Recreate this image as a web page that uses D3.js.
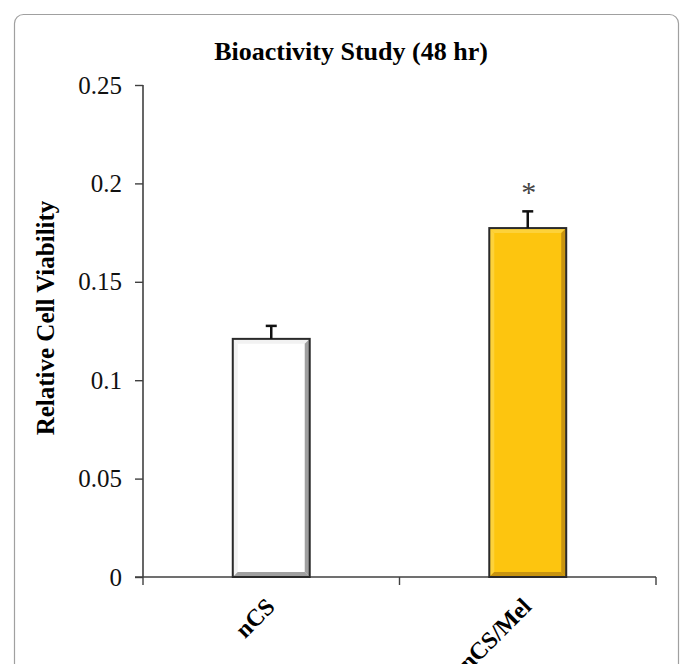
<!DOCTYPE html>
<html><head><meta charset="utf-8">
<script src="https://cdn.jsdelivr.net/npm/d3@7/dist/d3.min.js"></script>
<style>html,body{margin:0;padding:0;background:#fff;}svg{display:block;}</style>
</head><body>
<script>
const categories = ["nCS", "nCS/Mel"];
const values = [0.121, 0.1773];
const errors = [0.0066, 0.0085];
const significance = ["", "*"];
const yTicks = [0, 0.05, 0.1, 0.15, 0.2, 0.25];
const yTickLabels = ["0", "0.05", "0.1", "0.15", "0.2", "0.25"];
const fills = ["#ffffff", "#fdc50f"];
const bevelLight = ["#f2f2f2", "#fdd23a"];
const bevelDark = ["#a0a0a0", "#c89410"];
const title = "Bioactivity Study (48 hr)";
const yLabel = "Relative Cell Viability";

const W = 686, H = 664;
const svg = d3.select("body").append("svg").attr("width", W).attr("height", H);
const serif = "'Liberation Serif', 'Times New Roman', serif";

// frame
svg.append("rect").attr("x", 14.5).attr("y", 14.5).attr("width", 664).attr("height", 700)
  .attr("rx", 9).attr("fill", "none").attr("stroke", "#a0a0a0").attr("stroke-width", 1.2);

const x0 = 143, x1 = 656, yBase = 577, yTop = 85;
const x = d3.scaleBand().domain(categories).range([x0, x1]).paddingInner(0.7).paddingOuter(0.35);
const y = d3.scaleLinear().domain([0, 0.25]).range([yBase, yTop]);

// title
svg.append("text").attr("x", 351).attr("y", 60).attr("text-anchor", "middle")
  .attr("font-family", serif).attr("font-weight", "bold").attr("font-size", 26).text(title);

// y axis
const yAxis = svg.append("g").attr("transform", `translate(${x0},0)`)
  .call(d3.axisLeft(y).tickValues(yTicks).tickFormat((d, i) => yTickLabels[i]).tickSize(8).tickPadding(13));
yAxis.select(".domain").attr("stroke", "#404040").attr("stroke-width", 1.6).attr("d", `M0,${yTop}V${yBase}`);
yAxis.selectAll(".tick line").attr("stroke", "#404040").attr("stroke-width", 1.4);
yAxis.selectAll(".tick text").attr("font-family", serif).attr("font-size", 25).attr("fill", "#111");

// y label
svg.append("text").attr("transform", `translate(54,${318}) rotate(-90)`)
  .attr("text-anchor", "middle").attr("font-family", serif).attr("font-weight", "bold")
  .attr("font-size", 25).text(yLabel);

// x axis
const step = x.step();
const bounds = [x0, x0 + step, x1];
const xg = svg.append("g");
xg.append("line").attr("x1", x0 - 8).attr("x2", x1).attr("y1", yBase).attr("y2", yBase)
  .attr("stroke", "#404040").attr("stroke-width", 1.6);
xg.selectAll("line.tk").data(bounds).join("line").attr("class", "tk")
  .attr("x1", d => d).attr("x2", d => d).attr("y1", yBase).attr("y2", yBase + 8)
  .attr("stroke", "#404040").attr("stroke-width", 1.4);
xg.selectAll("text").data(categories).join("text")
  .attr("transform", d => `translate(${x(d) + x.bandwidth() / 2 + 5},${yBase + 31}) rotate(-45)`)
  .attr("text-anchor", "end").attr("font-family", serif).attr("font-weight", "bold")
  .attr("font-size", 24).text(d => d);

// bars
const bars = svg.append("g");
categories.forEach((c, i) => {
  const bx = x(c), bw = x.bandwidth(), by = y(values[i]), bh = yBase - by;
  const g = bars.append("g");
  g.append("rect").attr("x", bx).attr("y", by).attr("width", bw).attr("height", bh).attr("fill", fills[i]);
  const b = 5;
  g.append("polygon").attr("points", `${bx},${by} ${bx + bw},${by} ${bx + bw - b},${by + b} ${bx + b},${by + b}`).attr("fill", bevelLight[i]);
  g.append("polygon").attr("points", `${bx},${by} ${bx + b},${by + b} ${bx + b},${yBase - b} ${bx},${yBase}`).attr("fill", bevelLight[i]);
  g.append("polygon").attr("points", `${bx + bw},${by} ${bx + bw},${yBase} ${bx + bw - b},${yBase - b} ${bx + bw - b},${by + b}`).attr("fill", bevelDark[i]);
  g.append("polygon").attr("points", `${bx},${yBase} ${bx + bw},${yBase} ${bx + bw - b},${yBase - b} ${bx + b},${yBase - b}`).attr("fill", bevelDark[i]);
  g.append("rect").attr("x", bx).attr("y", by).attr("width", bw).attr("height", bh)
    .attr("fill", "none").attr("stroke", "#2a2a2a").attr("stroke-width", 2);
  const cx = bx + bw / 2, ey = y(values[i] + errors[i]);
  g.append("line").attr("x1", cx).attr("x2", cx).attr("y1", by).attr("y2", ey).attr("stroke", "#111").attr("stroke-width", 2.5);
  g.append("line").attr("x1", cx - 5.5).attr("x2", cx + 5.5).attr("y1", ey).attr("y2", ey).attr("stroke", "#111").attr("stroke-width", 2.5);
  if (significance[i]) {
    g.append("text").attr("x", cx + 1).attr("y", ey - 9).attr("text-anchor", "middle")
      .attr("font-family", serif).attr("font-size", 30).attr("fill", "#444").text(significance[i]);
  }
});
</script>
</body></html>
